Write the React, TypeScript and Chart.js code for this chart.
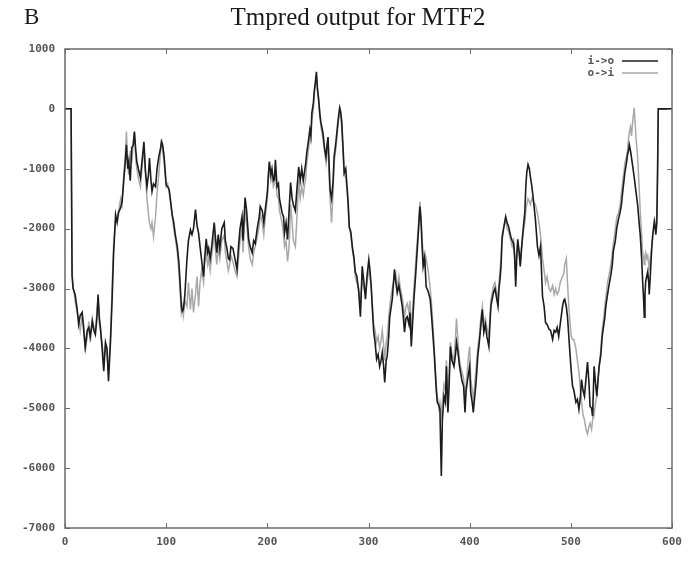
import React, { useEffect, useRef } from "react";
import { Chart, registerables } from "chart.js";

Chart.register(...registerables);

const title = "Tmpred output for MTF2";
const panelLabel = "B";
const seriesLabels = ["i->o", "o->i"];
const xTicks = [0, 100, 200, 300, 400, 500, 600];
const yTicks = [1000, 0, -1000, -2000, -3000, -4000, -5000, -6000, -7000];

// residue positions (x)
const residues = [
  0, 6, 7, 8, 10, 12, 13.5, 15, 17, 18.5,
  20, 22, 23.5, 25, 27, 28.5, 30, 31.5, 32.7, 34,
  35, 36.6, 38.3, 40, 41.5, 43, 45, 46.5, 48, 50,
  51.5, 53, 55, 56.4, 58, 59.5, 60.7, 62, 63, 64.5,
  66, 67.5, 68.6, 70, 71, 72.5, 74.6, 76, 78, 79.5,
  81, 82.5, 83.5, 85, 86, 87.5, 89.5, 91, 92.7, 94,
  95.4, 96.5, 98, 100, 101.5, 103, 106, 107.5, 109, 111,
  112.5, 114, 115, 116, 117, 118.5, 120.5, 122, 124, 125.5,
  127, 129, 130.5, 132, 133.5, 135, 137, 138, 139.6, 141,
  142, 143.5, 145, 147.5, 149, 150, 151.5, 153, 155, 157.4,
  158.5, 160, 161.5, 162.7, 164, 166, 168, 170, 171.5, 173,
  175, 176, 178, 179.5, 181.5, 183, 185, 186.5, 188, 190,
  192, 193, 195, 196.5, 198, 200, 201, 202, 203.5, 204.6,
  206, 207, 208, 209.6, 211, 212, 214.5, 216, 217, 218.5,
  220, 221.5, 223, 224.5, 225.7, 227.7, 229, 231, 232.5, 234,
  235.5, 236.6, 238, 239, 240.5, 242, 243, 244, 245.5, 246.5,
  247.5, 248.5, 249.5, 250.8, 252, 253, 255, 256.5, 258, 259,
  260, 261, 262, 263.5, 265, 266, 267.5, 269, 270, 271.5,
  272.5, 273.5, 275, 276, 277.5, 279, 280, 281, 282.5, 284,
  285.5, 287, 288.5, 290.4, 292, 293.8, 295.5, 297, 298.5, 300.3,
  301.5, 302.7, 304, 305.2, 306.5, 308, 309.5, 311, 312.5, 313.6,
  315, 316, 317.5, 318.5, 320, 321, 322.5, 323.5, 325.7, 327,
  328.4, 330, 331.5, 333.4, 334.5, 335.6, 337, 338.3, 340, 341,
  342.3, 343.5, 344.9, 346.5, 348.2, 349.5, 350.8, 352, 353, 354,
  355.5, 357, 359, 361, 362.5, 364, 365, 366, 367, 368,
  369.5, 370.6, 371.3, 372, 373, 374.6, 376, 377, 378.5, 379.5,
  381, 382.5, 384.5, 386, 387, 388.5, 390, 391, 392.5, 394,
  395.4, 396.5, 398, 399, 400, 401, 402.5, 403.6, 405, 406,
  407, 408, 409.5, 411, 412.5, 414, 415.5, 417, 419, 420,
  421, 422, 423.5, 425, 426.5, 428, 429, 430, 431, 432,
  433.5, 435.6, 437, 438.5, 440.6, 442, 443.5, 444.5, 445.5, 446.5,
  447.5, 449, 450, 451, 452, 453.5, 454.5, 455.5, 456.4, 457.7,
  459, 460, 461.5, 463, 465, 467, 468.5, 470, 471, 472,
  473.6, 475, 476.5, 478.5, 480, 482, 483.5, 485, 486.5, 488,
  489.5, 491.8, 493, 494, 495.5, 496.7, 498, 499.3, 500.5, 501.7,
  503, 505, 506.5, 508, 509.5, 510.6, 512, 513.5, 515, 516.5,
  518, 519, 520.5, 521.5, 522.3, 523, 524.5, 525.7, 527, 528,
  529.7, 531, 532.4, 533.5, 534.6, 536.3, 537.5, 539.6, 541, 542,
  544, 545.5, 547, 548.8, 550, 551, 552.5, 553.5, 555, 556,
  557, 557.8, 559, 560, 561.5, 562.7, 564.5, 566, 567.5, 568.6,
  570, 571, 572, 572.6, 573.3, 574, 575, 576, 577, 577.5,
  578.5, 580, 581, 582.5, 583.5, 584, 585, 585.8, 586.4, 600,
];

// i->o scores
const inToOut = [
  0, 0, -2800, -3000, -3100, -3350, -3600, -3450, -3400, -3700,
  -3980, -3700, -3650, -3800, -3550, -3700, -3770, -3500, -3100, -3500,
  -3650, -3980, -4380, -3900, -4000, -4550, -3870, -3220, -2430, -1770,
  -1900, -1730, -1650, -1550, -1220, -900, -600, -1000, -880, -1200,
  -650, -600, -380, -700, -880, -1000, -1150, -900, -550, -1030,
  -1300, -1100, -820, -1200, -1380, -1250, -1300, -1000, -800, -700,
  -550, -600, -800, -1270, -1300, -1350, -1770, -1900, -2100, -2300,
  -2550, -2980, -3300, -3380, -3350, -3100, -2520, -2200, -2020, -2100,
  -2000, -1680, -1950, -2070, -2300, -2520, -2800, -2500, -2170, -2400,
  -2330, -2500, -2300, -1900, -2200, -2400, -2100, -2330, -2000, -1900,
  -2200, -2330, -2500, -2520, -2300, -2330, -2500, -2680, -2300, -2000,
  -1800, -2200, -1480, -1700, -2170, -2300, -2400, -2200, -2250, -2000,
  -1800, -1630, -1700, -1900, -1680, -1400, -1100, -880, -1100, -1000,
  -1200, -1180, -850, -1300, -1250, -1500, -1730, -1800, -2070, -1900,
  -2180, -1700, -1230, -1500, -1600, -1700, -1400, -970, -1200, -1000,
  -1200, -1070, -900, -730, -550, -350, -450, -70, 100, 320,
  450, 620, 350, 150, -100, -230, -400, -650, -800, -600,
  -470, -900, -1350, -1500, -1200, -800, -600, -350, -180, 20,
  -50, -200, -700, -1070, -1000, -1350, -1600, -1970, -2050, -2300,
  -2470, -2730, -2800, -3070, -3470, -2630, -2900, -3180, -2800, -2520,
  -2700, -2970, -3400, -3730, -3900, -4180, -4100, -4300, -4200, -4070,
  -4300, -4570, -4200, -4130, -3800, -3470, -3300, -3180, -2680, -2900,
  -3070, -2950, -3100, -3300, -3500, -3730, -3500, -3470, -3600, -3400,
  -3970, -3600, -3180, -2800, -2350, -2000, -1630, -1900, -2300, -2630,
  -2470, -2970, -3050, -3180, -3500, -3850, -4100, -4400, -4700, -4900,
  -4950, -5020, -5600, -6130, -5200, -4800, -4900, -4300, -5070, -4700,
  -3970, -4200, -4300, -4100, -3900, -4070, -4300, -4400, -4550, -4630,
  -5070, -4700, -4520, -4400, -4300, -4730, -4900, -5070, -4800, -4630,
  -4400, -4130, -3900, -3630, -3350, -3730, -3600, -3800, -3970, -3600,
  -3300, -3200, -3070, -3000, -3150, -3300, -3000, -2850, -2630, -2180,
  -2000, -1800, -1900, -1970, -2130, -2200, -2250, -2500, -2970, -2500,
  -2180, -2400, -2630, -2400, -2180, -1900, -1730, -1300, -1070, -930,
  -1000, -1130, -1300, -1520, -1850, -2300, -2450, -2300, -2700, -3130,
  -3300, -3570, -3600, -3680, -3700, -3850, -3700, -3730, -3650, -3800,
  -3600, -3300, -3200, -3180, -3300, -3470, -3800, -4130, -4400, -4630,
  -4700, -4900, -4850, -5020, -4800, -4520, -4700, -4800, -4500, -4230,
  -4600, -4970, -5000, -5130, -4700, -4300, -4600, -4800, -4500, -4300,
  -4100, -3800, -3630, -3500, -3300, -3100, -2970, -2770, -2600, -2380,
  -2200, -1980, -1850, -1720, -1600, -1430, -1200, -1050, -900, -770,
  -700, -600, -700, -820, -1000, -1150, -1400, -1600, -1900, -2100,
  -2500, -2880, -3200, -3480, -3100, -2880, -2800, -2720, -2900, -3100,
  -2800, -2320, -2100, -1880, -2000, -2100, -1900, -980, 0, 0,
];

// o->i scores
const outToIn = [
  0, 0, -2700, -2950, -3200, -3400, -3500, -3700, -3450, -3600,
  -4050, -3800, -3550, -3900, -3500, -3650, -3700, -3400, -3150, -3600,
  -3700, -3900, -4200, -3950, -4100, -4400, -3800, -3000, -2300, -1850,
  -1800, -1700, -1500, -1600, -1100, -800, -380, -900, -1100, -700,
  -900, -550, -400, -850, -1000, -1150, -1300, -1000, -650, -1100,
  -1500, -1750, -1900, -2000, -1900, -2130, -1800, -1400, -1100, -800,
  -500, -700, -900, -1300, -1250, -1400, -1800, -2000, -2150, -2400,
  -2700, -3100, -3400, -3300, -3450, -3200, -3300, -2900, -3350, -3000,
  -3400, -3100, -2800, -3300, -2900, -2700, -2900, -2600, -2400, -2600,
  -2500, -2700, -2450, -2100, -2400, -2600, -2300, -2500, -2200, -2100,
  -2400, -2550, -2700, -2600, -2450, -2550, -2700, -2800, -2500, -2200,
  -2000, -2400, -1700, -1900, -2300, -2500, -2600, -2400, -2300, -2150,
  -1950, -1750, -1900, -2100, -1800, -1500, -1200, -950, -1200, -1100,
  -1300, -1250, -1000, -1450, -1500, -1700, -1900, -2100, -2300, -2200,
  -2550, -2300, -1600, -1900, -2200, -2300, -1900, -1200, -1500, -1300,
  -1450, -1300, -1150, -900, -700, -500, -550, -200, 0, 250,
  400, 550, 300, 100, -150, -300, -500, -700, -900, -700,
  -600, -1100, -1500, -1900, -1400, -900, -700, -450, -250, -50,
  -100, -300, -800, -1100, -1150, -1400, -1700, -2000, -2100, -2350,
  -2500, -2800, -2900, -3000, -3300, -2800, -3000, -3100, -2900, -2700,
  -2800, -3000, -3300, -3600, -3700, -3900, -3800, -4000, -3850, -3700,
  -3950, -4200, -3900, -3800, -3500, -3300, -3100, -3000, -2800, -2750,
  -3000, -2800, -3000, -3150, -3300, -3500, -3300, -3250, -3400, -3200,
  -3700, -3400, -3000, -2600, -2200, -1900, -1550, -1800, -2200, -2400,
  -2600, -2500, -2700, -3000, -3300, -3700, -4000, -4300, -4600, -4800,
  -5000, -4900, -5000, -5100, -4900, -4600, -4700, -4200, -4800, -4500,
  -3900, -4100, -4200, -3800, -3500, -3900, -4200, -4300, -4400, -4500,
  -4850, -4600, -4300, -4100, -3970, -4500, -4700, -4850, -4600, -4400,
  -4200, -4000, -3800, -3500, -3300, -3600, -3500, -3650, -3800, -3500,
  -3200, -3100, -2950, -2900, -3050, -3150, -2900, -2700, -2500, -2100,
  -2000, -1850, -2000, -2050, -2200, -2300, -2200, -2400, -2700, -2400,
  -2250, -2450, -2600, -2350, -2200, -2000, -1900, -1700, -1600, -1500,
  -1550, -1600, -1500, -1550, -1600, -1750, -1900, -2100, -2300, -2500,
  -2700, -2900, -2800, -3000, -3050, -2950, -3100, -3000, -3100, -3050,
  -2900, -2800, -2750, -2600, -2500, -2900, -3300, -3600, -3800, -3850,
  -3850, -4000, -4200, -4400, -4700, -4900, -5100, -5200, -5350, -5430,
  -5300, -5250, -5350, -5200, -5000, -5100, -4900, -4800, -4500, -4300,
  -4000, -3700, -3500, -3300, -3150, -2900, -2800, -2600, -2400, -2250,
  -2000, -1800, -1750, -1600, -1400, -1250, -1050, -900, -800, -700,
  -500, -400, -300, -450, -150, 20, -500, -800, -1300, -1700,
  -2100, -2400, -2500, -2600, -2450, -2400, -2500, -2450, -2600, -2700,
  -2500, -2300, -2100, -1950, -2000, -1900, -1800, -1000, 0, 0,
];

const TICK_FONT = "bold 11px 'DejaVu Sans Mono', monospace";
const TICK_COLOR = "#555";
const FRAME_COLOR = "#6a6a6a";
const SERIES_COLORS = ["#1c1c1c", "#a9a9a9"];

const decorPlugin = {
  id: "decor",
  afterDraw(chart: any) {
    const { ctx, chartArea: a, scales } = chart;
    ctx.save();
    // inner tick marks on all four sides
    ctx.strokeStyle = FRAME_COLOR;
    ctx.lineWidth = 1;
    ctx.beginPath();
    for (const v of xTicks) {
      const x = Math.round(scales.x.getPixelForValue(v)) + 0.5;
      ctx.moveTo(x, a.bottom);
      ctx.lineTo(x, a.bottom - 5);
      ctx.moveTo(x, a.top);
      ctx.lineTo(x, a.top + 5);
    }
    for (const v of yTicks) {
      const y = Math.round(scales.y.getPixelForValue(v)) + 0.5;
      ctx.moveTo(a.left, y);
      ctx.lineTo(a.left + 5, y);
      ctx.moveTo(a.right, y);
      ctx.lineTo(a.right - 5, y);
    }
    ctx.stroke();
    // frame
    ctx.lineWidth = 1.5;
    ctx.strokeRect(a.left, a.top, a.right - a.left, a.bottom - a.top);

    // legend (top right, inside)
    ctx.font = TICK_FONT;
    ctx.textAlign = "right";
    ctx.textBaseline = "middle";
    const ds = chart.data.datasets;
    ds.forEach((d: any, i: number) => {
      const y = a.top + 12 + i * 12;
      ctx.fillStyle = TICK_COLOR;
      ctx.fillText(d.label, a.right - 58, y);
      ctx.strokeStyle = d.borderColor;
      ctx.lineWidth = 1.6;
      ctx.beginPath();
      ctx.moveTo(a.right - 50, y);
      ctx.lineTo(a.right - 14, y);
      ctx.stroke();
    });

    // title and panel letter
    ctx.fillStyle = "#1a1a1a";
    ctx.textBaseline = "alphabetic";
    ctx.textAlign = "center";
    ctx.font = "25px 'Liberation Serif', 'Times New Roman', serif";
    ctx.fillText(title, 358, 25);
    ctx.textAlign = "left";
    ctx.font = "23px 'Liberation Serif', 'Times New Roman', serif";
    ctx.fillText(panelLabel, 24, 24);
    ctx.restore();
  },
};

export default function App() {
  const ref = useRef<HTMLCanvasElement | null>(null);

  useEffect(() => {
    const canvas = ref.current;
    if (!canvas) return;
    const chart = new Chart(canvas, {
      type: "line",
      data: {
        datasets: [
          {
            label: seriesLabels[0],
            data: residues.map((x, i) => ({ x, y: inToOut[i] })),
            borderColor: SERIES_COLORS[0],
            borderWidth: 1.6,
            pointRadius: 0,
            tension: 0,
            order: 0,
          },
          {
            label: seriesLabels[1],
            data: residues.map((x, i) => ({ x, y: outToIn[i] })),
            borderColor: SERIES_COLORS[1],
            borderWidth: 1.5,
            pointRadius: 0,
            tension: 0,
            order: 1,
          },
        ],
      },
      options: {
        responsive: false,
        animation: false,
        devicePixelRatio: 1,
        layout: { padding: { top: 49, right: 20, left: 0, bottom: 0 } },
        plugins: {
          legend: { display: false },
          tooltip: { enabled: false },
          title: { display: false },
        },
        scales: {
          x: {
            type: "linear",
            min: 0,
            max: 600,
            afterFit: (s: any) => {
              s.height = 35;
            },
            afterBuildTicks: (s: any) => {
              s.ticks = xTicks.map((v) => ({ value: v }));
            },
            grid: { display: false, drawTicks: false },
            border: { display: false },
            ticks: {
              padding: 8,
              color: TICK_COLOR,
              font: { family: "'DejaVu Sans Mono', monospace", size: 11, weight: "bold" },
              maxRotation: 0,
            },
          },
          y: {
            type: "linear",
            min: -7000,
            max: 1000,
            afterFit: (s: any) => {
              s.width = 65;
            },
            afterBuildTicks: (s: any) => {
              s.ticks = yTicks.map((v) => ({ value: v }));
            },
            grid: { display: false, drawTicks: false },
            border: { display: false },
            ticks: {
              padding: 10,
              color: TICK_COLOR,
              font: { family: "'DejaVu Sans Mono', monospace", size: 11, weight: "bold" },
              callback: (v: any) => String(v),
            },
          },
        },
      },
      plugins: [decorPlugin],
    });
    return () => chart.destroy();
  }, []);

  return (
    <div style={{ position: "fixed", left: 0, top: 0, width: 692, height: 563, background: "#fff" }}>
      <canvas ref={ref} width={692} height={563} />
    </div>
  );
}
